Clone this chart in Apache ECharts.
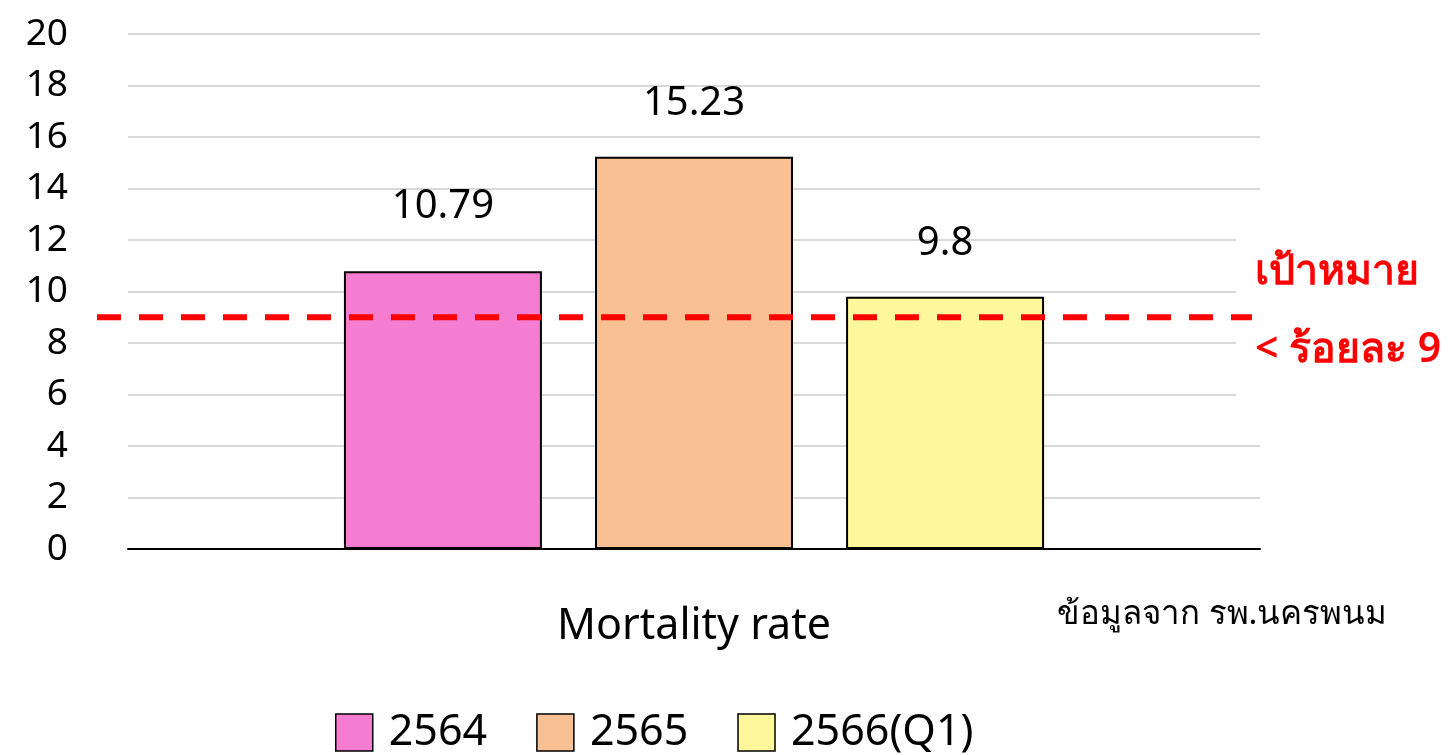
<!DOCTYPE html>
<html><head><meta charset="utf-8">
<script src="https://cdn.jsdelivr.net/npm/echarts@6/dist/echarts.min.js"></script>
<style>html,body{margin:0;padding:0;background:#fff}#c{width:1452px;height:755px}</style>
</head><body><div id="c"></div>
<script>
const categories = ['Mortality rate'];
const seriesNames = ['2564', '2565', '2566(Q1)'];
const values2564 = [10.79];
const values2565 = [15.23];
const values2566 = [9.8];
const targetValue = 9;
const targetLabel = ['เป้าหมาย', '< ร้อยละ 9'];
const sourceNote = 'ข้อมูลจาก รพ.นครพนม';
const yTicks = { min: 0, max: 20, interval: 2 };

const FONT = '"Noto Sans", "DejaVu Sans", sans-serif';
const colors = ['#F47CD1', '#F9C193', '#FEF79C'];
const dataSets = [values2564, values2565, values2566];
const labelOffsets = [[0, -40], [0, -28], [0, -28]];

const chart = echarts.init(document.getElementById('c'), null, { renderer: 'canvas' });
const series = seriesNames.map((name, i) => ({
  name: name,
  type: 'bar',
  data: dataSets[i],
  barWidth: 198,
  barGap: '26.8%',
  itemStyle: { color: colors[i], borderColor: '#000', borderWidth: 2 },
  label: {
    show: true, position: 'top', offset: labelOffsets[i],
    color: '#000', fontSize: 40, fontFamily: FONT
  },
  z: 3
}));

chart.setOption({
  animation: false,
  backgroundColor: '#fff',
  grid: { left: 128, right: 192, top: 34, bottom: 206 },
  legend: {
    data: seriesNames, bottom: -4, left: 330,
    itemWidth: 37, itemHeight: 37, itemGap: 49,
    icon: 'rect',
    itemStyle: { borderColor: '#000', borderWidth: 1.5 },
    textStyle: { fontSize: 43, fontFamily: FONT, color: '#000', padding: [0, 0, 0, 11] }
  },
  xAxis: {
    type: 'category', data: categories,
    axisLine: { lineStyle: { color: '#000', width: 2 } },
    axisTick: { show: false },
    axisLabel: { margin: 56, fontSize: 43, color: '#000', fontFamily: FONT }
  },
  yAxis: {
    type: 'value', min: yTicks.min, max: yTicks.max, interval: yTicks.interval,
    axisLine: { show: false }, axisTick: { show: false },
    axisLabel: { margin: 60, fontSize: 37, color: '#000', fontFamily: FONT },
    splitLine: { lineStyle: { color: '#d9d9d9', width: 2 } }
  },
  series: series
});

const yPix = chart.convertToPixel({ yAxisIndex: 0 }, targetValue);
chart.setOption({
  graphic: [
    { type: 'rect', shape: { x: 1236, y: 215, width: 216, height: 195 }, style: { fill: '#fff' }, z: 50 },
    { type: 'line', shape: { x1: 97, y1: yPix, x2: 1252, y2: yPix },
      style: { stroke: '#ff0000', lineWidth: 6, lineDash: [24, 18] }, z: 60 },
    { type: 'text', x: 1255, y: 272, style: { text: targetLabel[0], fill: '#ff0000', font: '600 41px ' + FONT, textVerticalAlign: 'middle' }, z: 70 },
    { type: 'text', x: 1255, y: 350, style: { text: targetLabel[1], fill: '#ff0000', font: '600 41px ' + FONT, textVerticalAlign: 'middle' }, z: 70 },
    { type: 'text', x: 1057, y: 615, style: { text: sourceNote, fill: '#000', font: '33px ' + FONT, textVerticalAlign: 'middle' }, z: 70 }
  ]
});
</script></body></html>
